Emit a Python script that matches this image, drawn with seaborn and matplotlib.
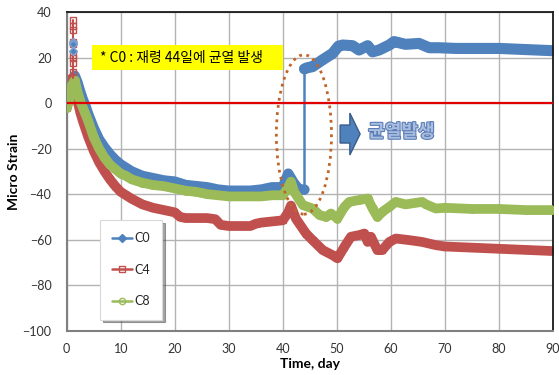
import matplotlib
matplotlib.use("Agg")
import matplotlib.pyplot as plt
import matplotlib.patheffects as pe
from matplotlib.lines import Line2D
from matplotlib.patches import Rectangle, Ellipse, FancyArrow
import seaborn as sns

# ---- readings (micro strain vs. age in days) ----
c0_day_pre = [0, 0.5, 1.0, 1.5, 2, 2.5, 3, 3.5, 4, 5, 6, 7, 8, 9, 10, 11, 12, 14, 16, 18, 20,
              22, 24, 26, 28, 30, 32, 34, 36, 38, 40, 41, 42, 43, 44.0]
c0_pre = [0, 3, 10, 12, 9, 5, 1.5, -1.5, -5, -11, -16, -19.5, -22.5, -25, -27, -28.5, -30, -32, -33, -34, -34.5,
          -36, -36.5, -37, -38, -38.5, -38.5, -38.5, -38, -37, -37, -31, -35, -38, -38]
c0_day_post = [44.0, 44.5, 45.5, 47.3, 49.2, 50.3, 51.1, 52.9, 54.1, 55.7, 56.6, 57.8, 59.7, 60.6, 62.7,
               65.2, 67.1, 68.9, 72, 76, 80, 85, 90]
c0_post = [15, 15.5, 16, 18.9, 21.8, 25, 25.5, 25.2, 23.3, 25.2, 22.5, 23.3, 25.5, 27, 25.8,
           26.2, 24.3, 24.3, 24, 24, 24, 23.5, 23]

c4_day = [0, 0.5, 1.0, 1.5, 2, 2.5, 3, 4, 5, 6, 7, 8, 9, 10, 11, 12, 14, 16, 18, 20, 21, 22, 24, 26,
          27.5, 28.5, 30, 32, 34, 35, 36, 38, 40, 41, 41.5, 42.4, 44.3, 45.5, 47.4, 49.2, 50.1, 51.4, 52.6,
          54.1, 55.1, 55.7, 56.3, 57.5, 58.4, 59.7, 60.9, 63.4, 65.8, 68.3, 70, 75, 80, 85, 90]
c4 = [-2, 2, 11, 8, 1, -4, -8, -15, -21, -26, -30, -33.5, -36.5, -39, -40.5, -42, -44.5, -46, -47, -48, -50,
      -50.5, -50.5, -50.5, -51, -53.5, -54, -54, -54, -53, -52.5, -52, -51.5, -48, -45, -50.7, -57.3, -60.2,
      -64.6, -66.8, -68.2, -63.1, -58.7, -58, -57.3, -61, -58.7, -64.6, -64.6, -61, -59.5, -60.2, -61, -62.4,
      -63, -63.5, -64, -64.5, -65]

c8_day = [0, 0.5, 1.0, 1.5, 2, 2.5, 3, 4, 5, 6, 7, 8, 9, 10, 11, 12, 14, 16, 18, 20, 22, 24, 26, 28, 30,
          32, 34, 36, 38, 40, 41, 41.5, 42.1, 43.7, 45.5, 46.8, 48, 48.9, 50.1, 51.4, 52.3, 54.1, 55.7, 56.6,
          57.5, 58.4, 59.7, 60.9, 62.7, 65.8, 66.5, 68.3, 70, 75, 80, 85, 90]
c8 = [-2, 1, 8, 10, 5, 1, -2, -8, -15, -20, -24, -27, -29, -31, -32, -33.5, -35, -36, -36.5, -37.5, -38.5,
      -39, -40, -40.5, -41, -41, -41, -41, -40.5, -40.5, -37, -34.5, -39, -44.8, -46.3, -49.2, -50, -48.5,
      -50.7, -45.6, -43.4, -42.6, -41.9, -46.3, -50, -47.8, -45.6, -43.4, -44.5, -43.4, -44.5, -46.3, -46,
      -46.5, -46.5, -47, -47]

# isolated early spikes recorded on day 1
c4_spike_day = [1.1] * 9
c4_spike = [36.5, 34, 32, 27, 26, 21, 20, 17.5, 13.5]
c0_spike_day = [1.1] * 3
c0_spike = [27, 26, 23]

series_names = ["C0", "C4", "C8"]
colors = {"C0": "#4F81BD", "C4": "#C0504D", "C8": "#9BBB59"}

sns.set_theme(style="white")
plt.rcParams["font.family"] = ["Lato", "Noto Sans CJK KR", "DejaVu Sans"]

fig = plt.figure(figsize=(5.59, 3.75), dpi=100)
ax = fig.add_axes([0.1193, 0.118, 0.870, 0.850])

band = dict(estimator=None, sort=False, legend=False, ax=ax)

# thick measurement bands
sns.lineplot(x=c8_day, y=c8, color=colors["C8"], lw=7, marker="o", markersize=5.5,
             markerfacecolor=colors["C8"], markeredgecolor=colors["C8"], zorder=3, **band)
sns.lineplot(x=c4_day, y=c4, color=colors["C4"], lw=7, marker="s", markersize=5,
             markerfacecolor=colors["C4"], markeredgecolor=colors["C4"], zorder=2, **band)
sns.lineplot(x=c0_day_pre, y=c0_pre, color=colors["C0"], lw=7.5, marker="D", markersize=4.5,
             markerfacecolor=colors["C0"], markeredgecolor=colors["C0"], zorder=1, **band)
sns.lineplot(x=c0_day_post, y=c0_post, color=colors["C0"], lw=8, marker="D", markersize=4.5,
             markerfacecolor=colors["C0"], markeredgecolor=colors["C0"], zorder=2, **band)

# crack jump of C0
ax.plot([c0_day_pre[-1], c0_day_post[0]], [c0_pre[-1], c0_post[0]], color=colors["C0"], lw=1.8, zorder=2)

# day-1 spikes
ax.plot([c4_spike_day[0]] * 2, [c4[2], max(c4_spike)], color=colors["C4"], lw=1.5, zorder=3)
ax.plot(c4_spike_day, c4_spike, ls="none", marker="s", markersize=5, mfc="none",
        mec=colors["C4"], mew=1, zorder=3)
ax.plot(c0_spike_day, c0_spike, ls="none", marker="D", markersize=4, mfc=colors["C0"],
        mec="#7FA3D0", zorder=3)

# zero reference
ax.axhline(0, color="#E00000", lw=1.6, zorder=4)

# axes
ax.set_xlim(0, 90)
ax.set_ylim(-100, 40)
ax.set_xticks(range(0, 91, 10))
ax.set_yticks(range(-100, 41, 20))
ax.grid(True, color="#B3B3B3", lw=1)
ax.set_axisbelow(True)
ax.tick_params(axis="both", length=0, labelsize=9, colors="#333333")
ax.tick_params(axis="y", pad=11)
ax.tick_params(axis="x", pad=9)
for s in ["left", "bottom"]:
    ax.spines[s].set_color("#808080")
    ax.spines[s].set_linewidth(1.5)
for s in ["top", "right"]:
    ax.spines[s].set_color("#1A1A1A")
    ax.spines[s].set_linewidth(1.3)
ax.set_xlabel("Time, day", fontsize=10, fontweight="bold", color="black", labelpad=2)
ax.set_ylabel("Micro Strain", fontsize=10, fontweight="bold", color="black", labelpad=2)

# note box
ax.add_patch(Rectangle((4.7, 14.5), 35.3, 11, facecolor="#FFFF00", edgecolor="none", zorder=5))
ax.text(6.2, 20, "* C0 : 재령 44일에 균열 발생", fontsize=10, color="black",
        family=["Noto Sans CJK KR", "DejaVu Sans"], va="center", ha="left", zorder=6)

# dotted ellipse around the crack
ax.add_patch(Ellipse((43.9, -13.8), width=10.2, height=70, fill=False, edgecolor="#C0652A",
                     lw=2, ls=(0, (1, 1.6)), zorder=6))

# block arrow and callout
ax.add_patch(FancyArrow(50.6, -13.6, 3.7, 0, width=7.9, head_width=18.4, head_length=1.9,
                        length_includes_head=True, facecolor="#4F81BD", edgecolor="#385D8A",
                        lw=1, zorder=6))
ax.text(55.8, -12.6, "균열발생", fontsize=13, fontweight="bold", color="#A9BEDF",
        family=["Noto Sans CJK KR", "DejaVu Sans"], va="center", ha="left", zorder=6,
        path_effects=[pe.withStroke(linewidth=1.6, foreground="#5B7DB8")])

# legend
markers = {"C0": ("D", colors["C0"]), "C4": ("s", "none"), "C8": ("o", "none")}
handles = [Line2D([], [], color=colors[n], lw=1.8, marker=markers[n][0], markersize=4.5,
                  mfc=markers[n][1], mec=colors[n]) for n in series_names]
leg = ax.legend(handles, series_names, loc="lower left", bbox_to_anchor=(0.068, 0.035),
                borderaxespad=0, frameon=True, fancybox=False, shadow=True, labelspacing=1.55,
                handlelength=1.6, handletextpad=0.15, borderpad=1.0, fontsize=9)
leg.get_frame().set_edgecolor("#D9D9D9")
leg.get_frame().set_linewidth(0.8)
leg.set_zorder(7)

fig.savefig("out.png", dpi=100)
